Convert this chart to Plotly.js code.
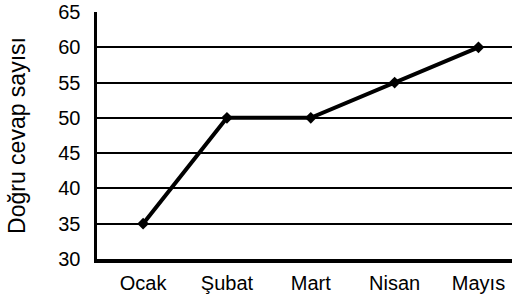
<!DOCTYPE html>
<html><head><meta charset="utf-8">
<script src="https://cdn.plot.ly/plotly-3.0.1.min.js"></script>
<style>html,body{margin:0;padding:0;background:#fff}#chart{width:512px;height:297px}</style>
</head><body><div id="chart"></div>
<script>
const months = ["Ocak", "Şubat", "Mart", "Nisan", "Mayıs"];
const correctAnswers = [35, 50, 50, 55, 60];
const yTicks = [30, 35, 40, 45, 50, 55, 60, 65];
const yTitle = "Doğru cevap sayısı";

const tickFont = {family: "Liberation Sans, Arial, sans-serif", size: 20, color: "#000"};
const titleFont = {family: "Liberation Sans, Arial, sans-serif", size: 23, color: "#000"};
Plotly.newPlot("chart", [{
  x: [0, 1, 2, 3, 4], y: correctAnswers, type: "scatter", mode: "lines+markers",
  line: {color: "#000", width: 4},
  marker: {symbol: "diamond", size: 9, color: "#000"},
  hoverinfo: "skip"
}], {
  width: 512, height: 297,
  margin: {l: 97, r: 0, t: 12, b: 38},
  paper_bgcolor: "#fff", plot_bgcolor: "#fff",
  showlegend: false,
  font: tickFont,
  xaxis: {
    range: [-0.55, 4.4], tickvals: [0, 1, 2, 3, 4], ticktext: months,
    showgrid: false, zeroline: false, showline: true, linewidth: 3.5, linecolor: "#000",
    ticks: "", tickfont: tickFont, ticklabelstandoff: 3, fixedrange: true
  },
  yaxis: {
    range: [30, 65], tickvals: yTicks, ticktext: yTicks.map(String),
    showgrid: true, gridcolor: "#000", gridwidth: 2, zeroline: false,
    showline: true, linewidth: 3.5, linecolor: "#000",
    ticks: "", tickfont: tickFont, ticklabelstandoff: 9,
    title: {text: yTitle, font: titleFont, standoff: 27}, automargin: false, fixedrange: true
  }
}, {displayModeBar: false, staticPlot: true});
</script></body></html>
